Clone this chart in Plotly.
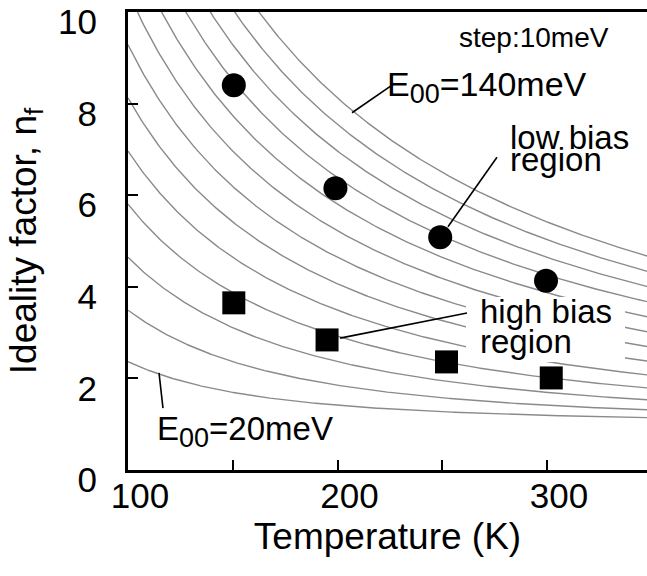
import numpy as np
import plotly.graph_objects as go

# Thermionic-field emission model curves, n = (E00/kT) coth(E00/kT)
E00_meV = [20, 30, 40, 50, 60, 70, 80, 90, 100, 110, 120, 130, 140]
K_B = 8.617e-2  # meV/K

# Measured ideality factors
low_bias_T = [150.5, 199, 249, 299.5]
low_bias_n = [8.4, 6.15, 5.08, 4.13]
high_bias_T = [150.5, 195, 252, 302]
high_bias_n = [3.65, 2.84, 2.36, 2.01]

x_ticks = [100, 150, 200, 250, 300]
x_ticktext = ["100", "", "200", "", "300"]
y_ticks = [0, 2, 4, 6, 8, 10]

FONT = "Liberation Sans, Arial, Helvetica, sans-serif"

T = np.linspace(100, 350, 300)
fig = go.Figure()
for e in E00_meV:
    x = e / (K_B * T)
    n = x / np.tanh(x)
    fig.add_trace(go.Scatter(x=T, y=n, mode="lines",
                             line=dict(color="#8a8a8a", width=1.4),
                             hoverinfo="skip", showlegend=False))

fig.add_trace(go.Scatter(x=low_bias_T, y=low_bias_n, mode="markers",
                         marker=dict(symbol="circle", size=24, color="black"),
                         showlegend=False))
fig.add_trace(go.Scatter(x=high_bias_T, y=high_bias_n, mode="markers",
                         marker=dict(symbol="square", size=23, color="black"),
                         showlegend=False))

shapes = [
    # white backing behind the "high bias region" label
    dict(type="rect", xref="x", yref="y", x0=261.3, x1=337.2, y0=2.36, y1=3.78,
         fillcolor="white", line=dict(width=0), layer="above"),
    # leader lines
    dict(type="line", xref="x", yref="y", x0=206.9, y0=7.80, x1=226.9, y1=8.43,
         line=dict(color="black", width=1.6), layer="above"),
    dict(type="line", xref="x", yref="y", x0=114.8, y0=2.12, x1=116.7, y1=1.35,
         line=dict(color="black", width=1.6), layer="above"),
    dict(type="line", xref="x", yref="y", x0=252.7, y0=5.31, x1=276.1, y1=6.83,
         line=dict(color="black", width=1.6), layer="above"),
    dict(type="line", xref="x", yref="y", x0=201.2, y0=2.88, x1=261.8, y1=3.43,
         line=dict(color="black", width=1.6), layer="above"),
]

SUB = "<sub><span style='font-size:27px'>00</span></sub>"


def label(x, y, text, size):
    return dict(x=x, y=y, xref="x", yref="y", text=text, showarrow=False,
                xanchor="left", yanchor="middle",
                font=dict(family=FONT, size=size, color="black"))


annotations = [
    label(257.0, 9.45, "step:10meV", 28),
    label(222.7, 8.36, "E" + SUB + "=140meV", 34),
    label(281.4, 7.27, "low bias", 33),
    label(281.4, 6.78, "region", 33),
    label(267.0, 3.47, "high bias", 33),
    label(267.0, 2.80, "region", 33),
    label(112.9, 0.83, "E" + SUB + "=20meV", 33),
]

fig.update_layout(
    width=647, height=576,
    margin=dict(l=128, r=0, t=12, b=106),
    paper_bgcolor="white", plot_bgcolor="white",
    font=dict(family=FONT, color="black"),
    shapes=shapes, annotations=annotations,
    xaxis=dict(range=[100, 347.7], tickvals=x_ticks, ticktext=x_ticktext,
               ticks="inside", ticklen=10, tickwidth=2, tickcolor="black",
               showline=True, linewidth=3, linecolor="black", mirror=True,
               showgrid=False, zeroline=False, automargin=False,
               tickfont=dict(size=35), ticklabelstandoff=-7, ticklabelshift=12,
               ticklabeloverflow="allow",
               title=dict(text="Temperature (K)", font=dict(size=37), standoff=10)),
    yaxis=dict(range=[0, 10], tickvals=y_ticks,
               ticks="inside", ticklen=10, tickwidth=2, tickcolor="black",
               showline=True, linewidth=3, linecolor="black",
               showgrid=False, zeroline=False, automargin=False,
               tickfont=dict(size=35), ticklabelstandoff=21, ticklabelshift=10,
               ticklabeloverflow="allow",
               title=dict(text="Ideality factor, n<sub>f</sub>", font=dict(size=37), standoff=11)),
)

fig.write_html("out.html")
